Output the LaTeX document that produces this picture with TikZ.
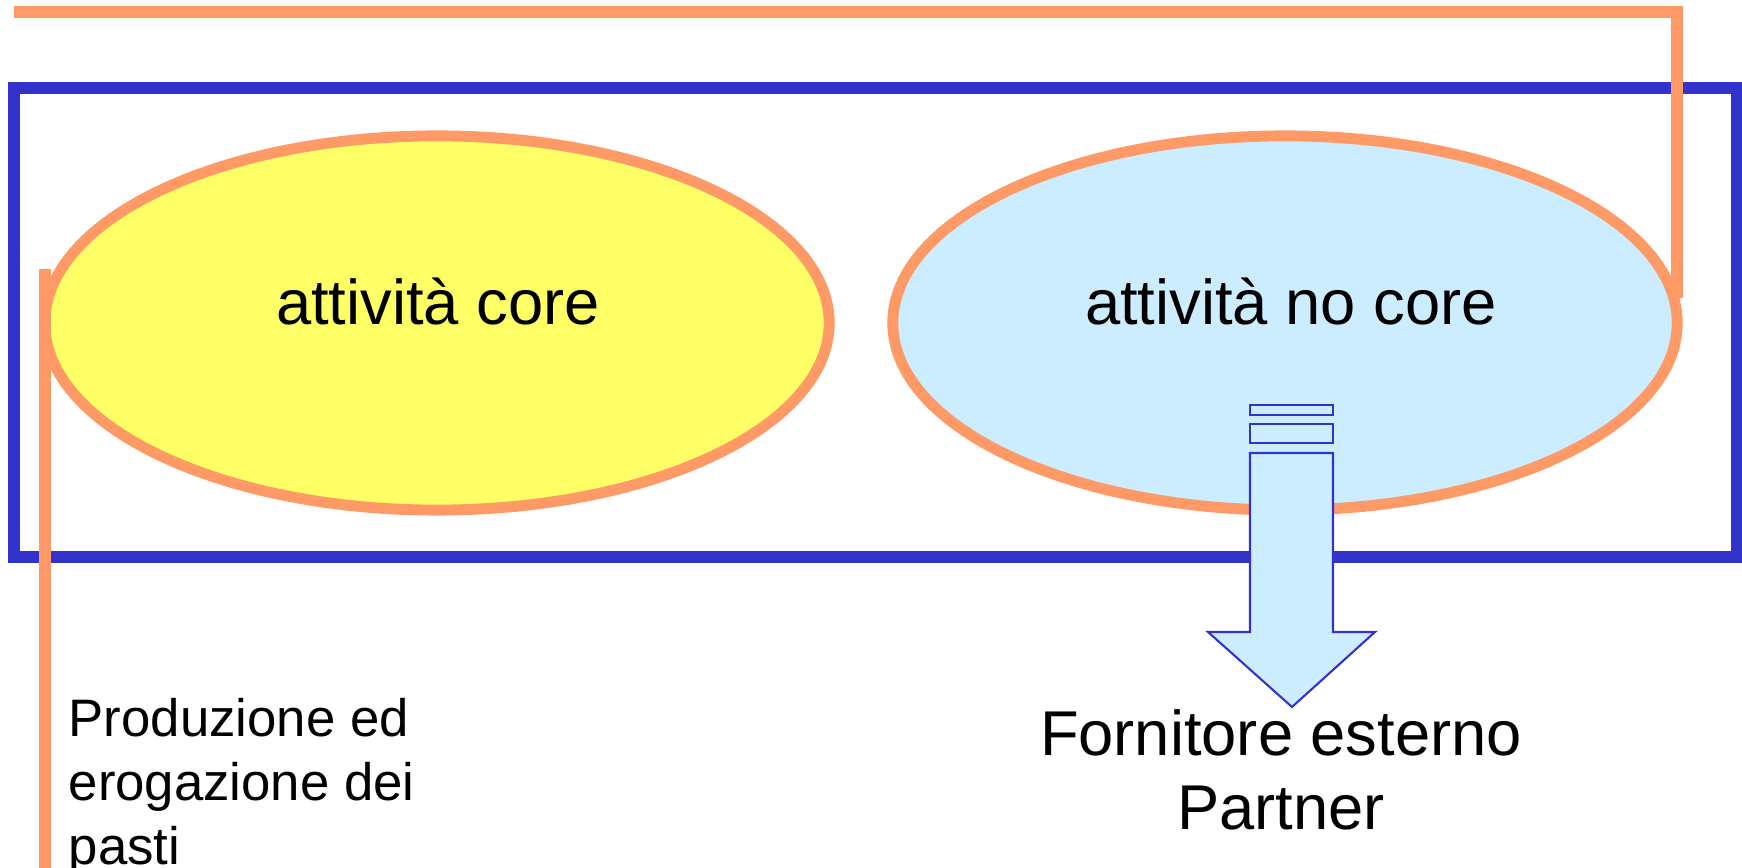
\documentclass[tikz,border=0pt]{standalone}
\usepackage{fontspec}
\setmainfont{Liberation Sans}
\usetikzlibrary{shapes.geometric}

\definecolor{pptorange}{HTML}{FF9966}
\definecolor{pptblue}{HTML}{3333CC}
\definecolor{pptyellow}{HTML}{FFFF66}
\definecolor{pptsky}{HTML}{CCECFF}

\begin{document}
\begin{tikzpicture}[x=0.01cm, y=-0.01cm,
orangeline/.style={draw=pptorange, line width=3.4pt},
bluebox/.style={draw=pptblue, line width=3.4pt},
blob/.style={ellipse, draw=pptorange, line width=3.1pt, inner sep=0pt,
  minimum width=7.84cm, minimum height=3.74cm},
arrowpart/.style={draw=pptblue, fill=pptsky, line width=0.6pt, line join=miter},
biglabel/.style={inner sep=0pt, anchor=base, font=\fontsize{18}{21.3}\selectfont},
smalllabel/.style={inner sep=0pt, anchor=base west, align=left,
  font=\fontsize{15}{18.2}\selectfont}]
\useasboundingbox (0,0) rectangle (1742,868);
%================================================================
% Frame
\draw[bluebox] (14,88) rectangle (1737,557);

%================================================================
% Activities
\node[blob, fill=pptyellow] (core) at (437,323) {};
\node[blob, fill=pptsky] (nocore) at (1285,323) {};
\node[biglabel] (corelabel) at (438,325) {attività core};
\node[biglabel] (nocorelabel) at (1291,325) {attività no core};

%================================================================
% Lines
% --------------------------------
% top right
\coordinate (tl) at (14,12);
\coordinate (tr) at (1677,12);
\coordinate (tb) at (1677,298);
\draw[orangeline] (tl) -- (tr) -- (tb);
% --------------------------------
% left
\coordinate (lt) at (45,269);
\coordinate (lb) at (45,880);
\draw[orangeline] (lt) -- (lb);

%================================================================
% Outsourcing arrow
\draw[arrowpart] (1250,405) rectangle (1333,415);
\draw[arrowpart] (1250,424) rectangle (1333,443);
\draw[arrowpart] (1250,453) -- (1333,453) -- (1333,632) -- (1375,632)
  -- (1292,707) -- (1208,632) -- (1250,632) -- cycle;
\coordinate (tip) at (1292,707);

%================================================================
% Texts (base = last line)
\node[biglabel, align=center] (partner) at (1281,830) {Fornitore esterno\\Partner};
\node[smalllabel] (pasti) at (68,865) {Produzione ed\\erogazione dei\\pasti};

%================================================================
\end{tikzpicture}
\end{document}
